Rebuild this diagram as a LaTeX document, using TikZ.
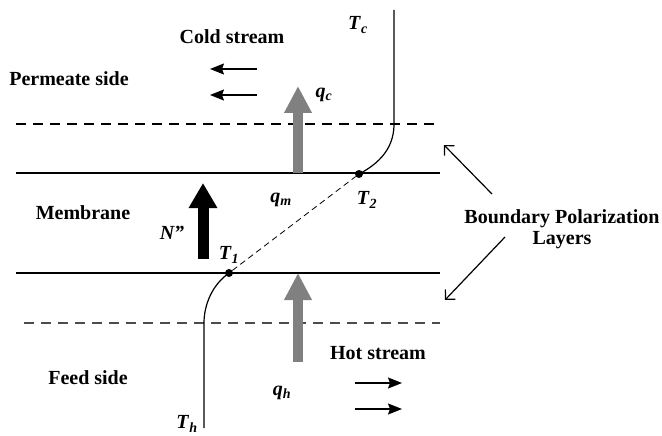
\documentclass[tikz,border=0pt]{standalone}
\usepackage{fontspec}
\setmainfont{Liberation Serif}
\usetikzlibrary{arrows.meta}
\newcommand{\sym}[2]{\textbf{\textit{#1}\textsubscript{\textit{#2}}}}

\begin{document}
\begin{tikzpicture}[x=1pt, y=-1pt,
  lbl/.style={font=\fontsize{20}{23}\selectfont\bfseries, inner sep=1pt},
  var/.style={font=\fontsize{20}{23}\selectfont, inner sep=1pt},
  wall/.style={line width=1.4pt},
  bl/.style={line width=1.1pt, dash pattern=on 10pt off 7pt},
  heat/.style={line width=10pt, draw=black!50, -{Triangle[length=27pt, width=26pt]}},
  flux/.style={line width=11pt, draw=black, -{Triangle[length=25pt, width=27pt]}},
  flow/.style={line width=1.2pt, -{Stealth[length=14pt, width=11pt, inset=2pt]}},
  pt/.style={circle, fill=black, inner sep=0pt, minimum size=8pt}
]
\useasboundingbox (0,0) rectangle (662,436);

% membrane walls and boundary layers
\draw[bl] (16,124) -- (440,124);
\draw[wall] (16,173) -- (440,173);
\draw[wall] (16,273) -- (440,273);
\draw[bl, draw=black!70] (24,323) -- (440,323);

% temperature profile
\node[pt] (t2) at (359,174) {};
\node[pt] (t1) at (229,273) {};
\coordinate (ctop) at (394,10);
\coordinate (hbot) at (204,428);
\draw[line width=1.2pt] (t2.center) .. controls (386,160) and (394,142) .. (394,124) -- (ctop);
\draw[line width=1.2pt] (t1.center) .. controls (212,285) and (204,305) .. (204,323) -- (hbot);
\draw[line width=0.8pt, dash pattern=on 6pt off 4pt] (t1) -- (t2);

% heat and mass fluxes
\coordinate (qc0) at (298,173);
\coordinate (qc1) at (298,86);
\coordinate (qh0) at (298,362);
\coordinate (qh1) at (298,273);
\coordinate (n0) at (203,259);
\coordinate (n1) at (203,183);
\draw[heat] (qc0) -- (qc1);
\draw[heat] (qh0) -- (qh1);
\draw[flux] (n0) -- (n1);

% stream directions
\coordinate (ca0) at (257,69);  \coordinate (ca1) at (210,69);
\coordinate (cb0) at (257,95);  \coordinate (cb1) at (210,95);
\coordinate (ha0) at (355,383); \coordinate (ha1) at (402,383);
\coordinate (hb0) at (355,409); \coordinate (hb1) at (402,409);
\draw[flow] (ca0) -- (ca1);
\draw[flow] (cb0) -- (cb1);
\draw[flow] (ha0) -- (ha1);
\draw[flow] (hb0) -- (hb1);

% labels
\node[lbl] (cold) at (232,37) {Cold stream};
\node[lbl] (perm) at (69,79) {Permeate side};
\node[lbl] (memb) at (83,213) {Membrane};
\node[lbl] (hot) at (378,353) {Hot stream};
\node[lbl] (feed) at (88,378) {Feed side};
\node[lbl, align=center] (bpl) at (562,229) {Boundary Polarization\\[-2pt]Layers};
\node[var] (tc) at (358,25) {\sym{T}{c}};
\node[var] (qc) at (324,95) {\sym{q}{c}};
\node[var] (qm) at (281,200) {\sym{q}{m}};
\node[var] (t2l) at (367,200) {\sym{T}{2}};
\node[var] (nl) at (172,233) {\textbf{\textit{N”}}};
\node[var] (t1l) at (229,255) {\sym{T}{1}};
\node[var] (qh) at (282,393) {\sym{q}{h}};
\node[var] (th) at (187,424) {\sym{T}{h}};

% pointers to the boundary layers
\coordinate (bu0) at (492,194); \coordinate (bu) at (444,145);
\coordinate (bd0) at (505,237); \coordinate (bd) at (445,300);
\draw[line width=1.2pt, -{Straight Barb[length=7pt, width=14pt]}] (bu0) -- (bu);
\draw[line width=1.2pt, -{Straight Barb[length=7pt, width=14pt]}] (bd0) -- (bd);
\end{tikzpicture}
\end{document}
